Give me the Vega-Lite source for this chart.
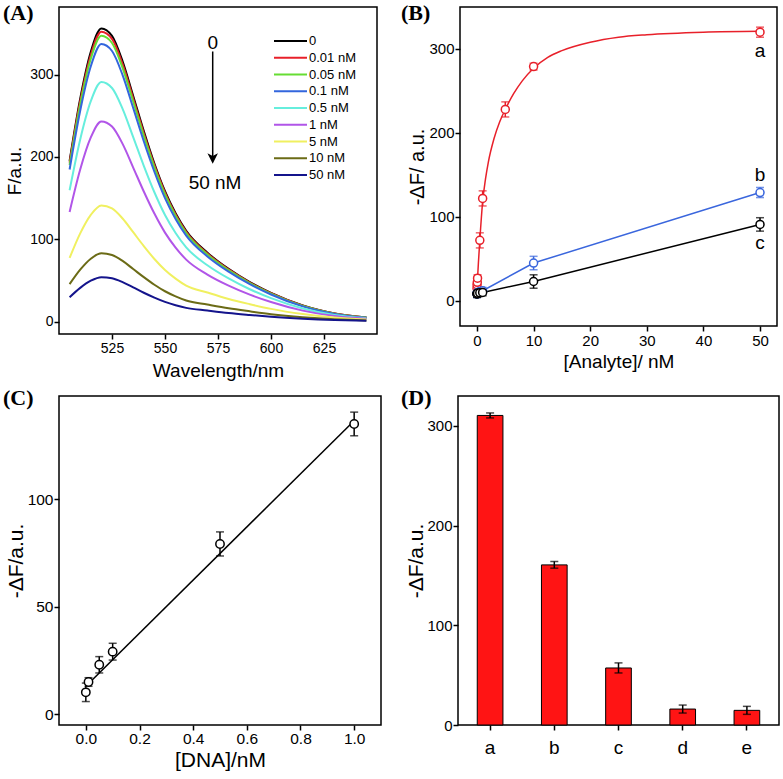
{
"$schema": "https://vega.github.io/schema/vega-lite/v6.json",
"padding": {"left": 2, "top": 1, "right": 0, "bottom": 0},
"background": "white",
"config": {
 "view": {"stroke": "black", "strokeWidth": 1.5},
 "axis": {"grid": false, "domain": false, "tickColor": "black", "tickWidth": 1.5, "tickSize": 5, "labelColor": "black", "titleColor": "black", "labelFont": "Liberation Sans", "titleFont": "Liberation Sans", "titleFontWeight": "normal"},
 "text": {"font": "Liberation Sans", "color": "black"},
 "title": {"font": "Liberation Serif", "fontWeight": "bold", "fontSize": 22, "color": "black", "anchor": "start", "frame": "group", "baseline": "alphabetic"}
},
"datasets": {
 "spec": [
  {"w":505,"c":"0","F":195},{"w":510,"c":"0","F":270.6},{"w":515,"c":"0","F":327.5},{"w":520,"c":"0","F":356},{"w":525,"c":"0","F":347},{"w":530,"c":"0","F":316},{"w":535,"c":"0","F":274},{"w":540,"c":"0","F":231.4},{"w":545,"c":"0","F":192},{"w":550,"c":"0","F":158.4},{"w":555,"c":"0","F":131.7},{"w":560,"c":"0","F":110.4},{"w":570,"c":"0","F":83.7},{"w":580,"c":"0","F":64},{"w":590,"c":"0","F":48},{"w":600,"c":"0","F":34.9},{"w":615,"c":"0","F":19.6},{"w":630,"c":"0","F":10},{"w":645,"c":"0","F":5},
  {"w":505,"c":"0.01 nM","F":193},{"w":510,"c":"0.01 nM","F":267.5},{"w":515,"c":"0.01 nM","F":323.8},{"w":520,"c":"0.01 nM","F":352},{"w":525,"c":"0.01 nM","F":343.2},{"w":530,"c":"0.01 nM","F":312.6},{"w":535,"c":"0.01 nM","F":271},{"w":540,"c":"0.01 nM","F":228.8},{"w":545,"c":"0.01 nM","F":190},{"w":550,"c":"0.01 nM","F":156.6},{"w":555,"c":"0.01 nM","F":130.2},{"w":560,"c":"0.01 nM","F":109.1},{"w":570,"c":"0.01 nM","F":82.7},{"w":580,"c":"0.01 nM","F":63.4},{"w":590,"c":"0.01 nM","F":47.5},{"w":600,"c":"0.01 nM","F":34.5},{"w":615,"c":"0.01 nM","F":19.4},{"w":630,"c":"0.01 nM","F":9.9},{"w":645,"c":"0.01 nM","F":4.9},
  {"w":505,"c":"0.05 nM","F":190.2},{"w":510,"c":"0.05 nM","F":263.7},{"w":515,"c":"0.05 nM","F":319.2},{"w":520,"c":"0.05 nM","F":347},{"w":525,"c":"0.05 nM","F":338.3},{"w":530,"c":"0.05 nM","F":308.1},{"w":535,"c":"0.05 nM","F":267.2},{"w":540,"c":"0.05 nM","F":225.6},{"w":545,"c":"0.05 nM","F":187.4},{"w":550,"c":"0.05 nM","F":154.4},{"w":555,"c":"0.05 nM","F":128.4},{"w":560,"c":"0.05 nM","F":107.6},{"w":570,"c":"0.05 nM","F":81.5},{"w":580,"c":"0.05 nM","F":62.5},{"w":590,"c":"0.05 nM","F":46.8},{"w":600,"c":"0.05 nM","F":34},{"w":615,"c":"0.05 nM","F":19.1},{"w":630,"c":"0.05 nM","F":9.7},{"w":645,"c":"0.05 nM","F":4.9},
  {"w":505,"c":"0.1 nM","F":184.7},{"w":510,"c":"0.1 nM","F":256.1},{"w":515,"c":"0.1 nM","F":310},{"w":520,"c":"0.1 nM","F":337},{"w":525,"c":"0.1 nM","F":328.6},{"w":530,"c":"0.1 nM","F":299.3},{"w":535,"c":"0.1 nM","F":259.5},{"w":540,"c":"0.1 nM","F":219},{"w":545,"c":"0.1 nM","F":182},{"w":550,"c":"0.1 nM","F":150},{"w":555,"c":"0.1 nM","F":124.7},{"w":560,"c":"0.1 nM","F":104.5},{"w":570,"c":"0.1 nM","F":79.2},{"w":580,"c":"0.1 nM","F":60.7},{"w":590,"c":"0.1 nM","F":45.5},{"w":600,"c":"0.1 nM","F":33},{"w":615,"c":"0.1 nM","F":18.5},{"w":630,"c":"0.1 nM","F":9.4},{"w":645,"c":"0.1 nM","F":4.7},
  {"w":505,"c":"0.5 nM","F":159.5},{"w":510,"c":"0.5 nM","F":221.2},{"w":515,"c":"0.5 nM","F":267.7},{"w":520,"c":"0.5 nM","F":291},{"w":525,"c":"0.5 nM","F":283.7},{"w":530,"c":"0.5 nM","F":258.4},{"w":535,"c":"0.5 nM","F":224.1},{"w":540,"c":"0.5 nM","F":189.2},{"w":545,"c":"0.5 nM","F":157.1},{"w":550,"c":"0.5 nM","F":129.5},{"w":555,"c":"0.5 nM","F":107.7},{"w":560,"c":"0.5 nM","F":90.2},{"w":570,"c":"0.5 nM","F":68.4},{"w":580,"c":"0.5 nM","F":52.4},{"w":590,"c":"0.5 nM","F":39.3},{"w":600,"c":"0.5 nM","F":28.5},{"w":615,"c":"0.5 nM","F":16},{"w":630,"c":"0.5 nM","F":8.1},{"w":645,"c":"0.5 nM","F":4.1},
  {"w":505,"c":"1 nM","F":133.2},{"w":510,"c":"1 nM","F":184.7},{"w":515,"c":"1 nM","F":223.6},{"w":520,"c":"1 nM","F":243},{"w":525,"c":"1 nM","F":236.9},{"w":530,"c":"1 nM","F":215.8},{"w":535,"c":"1 nM","F":187.1},{"w":540,"c":"1 nM","F":158},{"w":545,"c":"1 nM","F":131.2},{"w":550,"c":"1 nM","F":108.1},{"w":555,"c":"1 nM","F":89.9},{"w":560,"c":"1 nM","F":75.3},{"w":570,"c":"1 nM","F":57.1},{"w":580,"c":"1 nM","F":43.7},{"w":590,"c":"1 nM","F":32.8},{"w":600,"c":"1 nM","F":23.8},{"w":615,"c":"1 nM","F":13.4},{"w":630,"c":"1 nM","F":6.8},{"w":645,"c":"1 nM","F":3.4},
  {"w":505,"c":"5 nM","F":77.3},{"w":510,"c":"5 nM","F":107.2},{"w":515,"c":"5 nM","F":129.7},{"w":520,"c":"5 nM","F":141},{"w":525,"c":"5 nM","F":137.5},{"w":530,"c":"5 nM","F":125.2},{"w":535,"c":"5 nM","F":108.6},{"w":540,"c":"5 nM","F":91.7},{"w":545,"c":"5 nM","F":76.1},{"w":550,"c":"5 nM","F":62.7},{"w":555,"c":"5 nM","F":52.2},{"w":560,"c":"5 nM","F":43.7},{"w":570,"c":"5 nM","F":35.3},{"w":580,"c":"5 nM","F":27.5},{"w":590,"c":"5 nM","F":21.2},{"w":600,"c":"5 nM","F":15.5},{"w":615,"c":"5 nM","F":9.2},{"w":630,"c":"5 nM","F":4.9},{"w":645,"c":"5 nM","F":2.5},
  {"w":505,"c":"10 nM","F":45.5},{"w":510,"c":"10 nM","F":63.1},{"w":515,"c":"10 nM","F":76.4},{"w":520,"c":"10 nM","F":83},{"w":525,"c":"10 nM","F":80.9},{"w":530,"c":"10 nM","F":73.7},{"w":535,"c":"10 nM","F":63.9},{"w":540,"c":"10 nM","F":54},{"w":545,"c":"10 nM","F":44.8},{"w":550,"c":"10 nM","F":36.9},{"w":555,"c":"10 nM","F":30.7},{"w":560,"c":"10 nM","F":25.7},{"w":570,"c":"10 nM","F":20.8},{"w":580,"c":"10 nM","F":16.2},{"w":590,"c":"10 nM","F":12.5},{"w":600,"c":"10 nM","F":9.1},{"w":615,"c":"10 nM","F":5.4},{"w":630,"c":"10 nM","F":2.9},{"w":645,"c":"10 nM","F":1.5},
  {"w":505,"c":"50 nM","F":29.6},{"w":510,"c":"50 nM","F":41},{"w":515,"c":"50 nM","F":49.7},{"w":520,"c":"50 nM","F":54},{"w":525,"c":"50 nM","F":52.7},{"w":530,"c":"50 nM","F":48},{"w":535,"c":"50 nM","F":41.6},{"w":540,"c":"50 nM","F":35.1},{"w":545,"c":"50 nM","F":29.2},{"w":550,"c":"50 nM","F":24},{"w":555,"c":"50 nM","F":20},{"w":560,"c":"50 nM","F":16.7},{"w":570,"c":"50 nM","F":13.5},{"w":580,"c":"50 nM","F":10.5},{"w":590,"c":"50 nM","F":8.1},{"w":600,"c":"50 nM","F":5.9},{"w":615,"c":"50 nM","F":3.5},{"w":630,"c":"50 nM","F":1.9},{"w":645,"c":"50 nM","F":1}
 ],
 "annA": [{"w":572.5,"F":338,"t":"0"},{"w":573.6,"F":168,"t":"50 nM"}],
 "arrowA": [{"w":572.5,"F":328,"F2":200}],
 "headA": [{"w":572.5,"F":198}],
 "fitB": [
  {"x":0,"y":15,"s":"a"},{"x":0.25,"y":45,"s":"a"},{"x":0.5,"y":72,"s":"a"},{"x":1,"y":118,"s":"a"},{"x":1.5,"y":145,"s":"a"},{"x":2,"y":165,"s":"a"},{"x":3,"y":193,"s":"a"},{"x":4,"y":213,"s":"a"},{"x":5,"y":228,"s":"a"},{"x":6.5,"y":247,"s":"a"},{"x":8,"y":262,"s":"a"},{"x":10,"y":277,"s":"a"},{"x":12.5,"y":290,"s":"a"},{"x":15,"y":298,"s":"a"},{"x":20,"y":308,"s":"a"},{"x":25,"y":314,"s":"a"},{"x":30,"y":317,"s":"a"},{"x":40,"y":320,"s":"a"},{"x":50,"y":321,"s":"a"}
 ],
 "ptsB": [
  {"x":0,"y":15,"lo":11,"hi":19,"s":"a"},{"x":0.01,"y":19,"lo":15,"hi":23,"s":"a"},{"x":0.05,"y":22,"lo":18,"hi":26,"s":"a"},{"x":0.1,"y":27,"lo":23,"hi":31,"s":"a"},{"x":0.5,"y":72,"lo":63,"hi":81,"s":"a"},{"x":1,"y":122,"lo":113,"hi":131,"s":"a"},{"x":5,"y":228,"lo":219,"hi":237,"s":"a"},{"x":10,"y":279,"lo":275,"hi":283,"s":"a"},{"x":50,"y":320,"lo":314,"hi":326,"s":"a"},
  {"x":0,"y":8,"lo":4,"hi":12,"s":"b"},{"x":0.01,"y":9,"lo":5,"hi":13,"s":"b"},{"x":0.05,"y":9.5,"lo":5.5,"hi":13.5,"s":"b"},{"x":0.1,"y":10,"lo":6,"hi":14,"s":"b"},{"x":0.5,"y":11,"lo":7,"hi":15,"s":"b"},{"x":1,"y":12,"lo":8,"hi":16,"s":"b"},{"x":10,"y":45,"lo":37,"hi":53,"s":"b"},{"x":50,"y":129,"lo":123,"hi":135,"s":"b"},
  {"x":0,"y":8,"lo":4,"hi":12,"s":"c"},{"x":0.01,"y":8.5,"lo":4.5,"hi":12.5,"s":"c"},{"x":0.05,"y":9,"lo":5,"hi":13,"s":"c"},{"x":0.1,"y":9,"lo":5,"hi":13,"s":"c"},{"x":0.5,"y":9.5,"lo":5.5,"hi":13.5,"s":"c"},{"x":1,"y":10,"lo":6,"hi":14,"s":"c"},{"x":10,"y":23,"lo":15,"hi":31,"s":"c"},{"x":50,"y":91,"lo":83,"hi":99,"s":"c"}
 ],
 "labB": [{"x":50,"y":297,"t":"a"},{"x":50,"y":150,"t":"b"},{"x":50,"y":69,"t":"c"}],
 "ptsC": [
  {"x":0,"y":10.2,"lo":5.9,"hi":14.5},{"x":0.01,"y":15,"lo":13,"hi":17},{"x":0.05,"y":23,"lo":19.2,"hi":26.8},{"x":0.1,"y":29.1,"lo":25.2,"hi":33},{"x":0.5,"y":79.2,"lo":73.6,"hi":84.8},{"x":1,"y":135,"lo":129.5,"hi":140.5}
 ],
 "lineC": [{"x":0,"y":13},{"x":1,"y":136.5}],
 "barD": [
  {"k":"a","v":310.5,"lo":308,"hi":313},{"k":"b","v":160.6,"lo":157.3,"hi":164},{"k":"c","v":57.2,"lo":52.2,"hi":62.3},{"k":"d","v":16,"lo":12,"hi":20},{"k":"e","v":14.7,"lo":10.7,"hi":18.7}
 ]
},
"spacing": 5,
"resolve": {"scale": {"color": "independent", "stroke": "independent"}, "legend": {"color": "independent", "stroke": "independent"}},
"vconcat": [
 {"hconcat": [
  {
   "width": 318, "height": 327,
   "title": {"text": "(A)", "dx": -56, "offset": -18},
   "layer": [
    {"data": {"name": "spec"},
     "mark": {"type": "line", "strokeWidth": 2, "interpolate": "monotone"},
     "encoding": {
      "x": {"field": "w", "type": "quantitative", "scale": {"domain": [500, 650], "nice": false, "zero": false}, "axis": {"values": [525, 550, 575, 600, 625], "title": "Wavelength/nm", "labelFontSize": 14, "titleFontSize": 19, "labelPadding": 2, "titlePadding": 6}},
      "y": {"field": "F", "type": "quantitative", "scale": {"domain": [-15, 382], "nice": false}, "axis": {"values": [0, 100, 200, 300], "title": "F/a.u.", "labelFontSize": 14, "titleFontSize": 19, "labelPadding": 1, "titlePadding": 5}},
      "color": {"field": "c", "type": "nominal",
       "scale": {"domain": ["0", "0.01 nM", "0.05 nM", "0.1 nM", "0.5 nM", "1 nM", "5 nM", "10 nM", "50 nM"],
                 "range": ["#000000", "#e8202a", "#66dd33", "#3366dd", "#66eedd", "#b155e8", "#f0f060", "#6b6b16", "#14148c"]},
       "legend": {"orient": "none", "legendX": 223, "legendY": 25.5, "title": null, "symbolType": "M-2.2,0H2.2", "symbolSize": 225, "symbolStrokeWidth": 2, "labelFontSize": 13, "labelFont": "Liberation Sans", "labelColor": "black", "labelOffset": 10, "rowPadding": 0.75, "padding": 0}}
     }},
    {"data": {"name": "annA"},
     "mark": {"type": "text", "fontSize": 19},
     "encoding": {"x": {"field": "w", "type": "quantitative"}, "y": {"field": "F", "type": "quantitative"}, "text": {"field": "t"}}},
    {"data": {"name": "arrowA"},
     "mark": {"type": "rule", "strokeWidth": 1.5, "color": "black"},
     "encoding": {"x": {"field": "w", "type": "quantitative"}, "y": {"field": "F", "type": "quantitative"}, "y2": {"field": "F2"}}},
    {"data": {"name": "headA"},
     "mark": {"type": "point", "shape": "M-1,-1L0,1L1,-1L0,-0.5Z", "filled": true, "color": "black", "size": 110, "opacity": 1},
     "encoding": {"x": {"field": "w", "type": "quantitative"}, "y": {"field": "F", "type": "quantitative"}}}
   ]
  },
  {
   "width": 317, "height": 319,
   "title": {"text": "(B)", "dx": -59, "offset": -18},
   "layer": [
    {"data": {"name": "fitB"},
     "mark": {"type": "line", "strokeWidth": 1.5, "interpolate": "monotone"},
     "encoding": {
      "x": {"field": "x", "type": "quantitative", "scale": {"domain": [-3, 53], "nice": false, "zero": false}, "axis": {"values": [0, 10, 20, 30, 40, 50], "title": "[Analyte]/ nM", "labelFontSize": 15, "titleFontSize": 19, "labelPadding": 2, "titlePadding": 4}},
      "y": {"field": "y", "type": "quantitative", "title": "-ΔF/ a.u.", "scale": {"domain": [-30, 350], "nice": false}, "axis": {"values": [0, 100, 200, 300], "labelFontSize": 15, "titleFontSize": 20, "labelPadding": 1, "titlePadding": 1}},
      "color": {"field": "s", "type": "nominal", "scale": {"domain": ["a", "b", "c"], "range": ["#e8202a", "#3a66dd", "#000000"]}, "legend": null}
     }},
    {"data": {"name": "ptsB"},
     "transform": [{"filter": "datum.s !== 'a'"}],
     "mark": {"type": "line", "strokeWidth": 1.5},
     "encoding": {
      "x": {"field": "x", "type": "quantitative", "title": "[Analyte]/ nM"},
      "y": {"field": "y", "type": "quantitative", "title": "-ΔF/ a.u."},
      "color": {"field": "s", "type": "nominal", "legend": null}
     }},
    {"data": {"name": "ptsB"},
     "mark": {"type": "errorbar", "ticks": {"size": 8}, "thickness": 1.5},
     "encoding": {
      "x": {"field": "x", "type": "quantitative", "title": "[Analyte]/ nM"},
      "y": {"field": "lo", "type": "quantitative", "title": "-ΔF/ a.u."},
      "y2": {"field": "hi"},
      "color": {"field": "s", "type": "nominal", "legend": null}
     }},
    {"data": {"name": "ptsB"},
     "mark": {"type": "point", "fill": "white", "filled": false, "strokeWidth": 1.5, "size": 64, "opacity": 1, "fillOpacity": 1},
     "encoding": {
      "x": {"field": "x", "type": "quantitative", "title": "[Analyte]/ nM"},
      "y": {"field": "y", "type": "quantitative", "title": "-ΔF/ a.u."},
      "stroke": {"field": "s", "type": "nominal", "scale": {"domain": ["a", "b", "c"], "range": ["#e8202a", "#3a66dd", "#000000"]}, "legend": null}
     }},
    {"data": {"name": "labB"},
     "mark": {"type": "text", "fontSize": 19},
     "encoding": {"x": {"field": "x", "type": "quantitative", "title": "[Analyte]/ nM"}, "y": {"field": "y", "type": "quantitative", "title": "-ΔF/ a.u."}, "text": {"field": "t"}}}
   ]
  }
 ], "spacing": 22,
 "resolve": {"scale": {"color": "independent", "stroke": "independent"}, "legend": {"color": "independent", "stroke": "independent"}}},
 {"hconcat": [
  {
   "width": 322, "height": 329,
   "title": {"text": "(C)", "dx": -56, "offset": -14},
   "layer": [
    {"data": {"name": "lineC"},
     "mark": {"type": "line", "strokeWidth": 1.5, "color": "black"},
     "encoding": {
      "x": {"field": "x", "type": "quantitative", "title": "[DNA]/nM", "scale": {"domain": [-0.1, 1.1], "nice": false, "zero": false}, "axis": {"values": [0, 0.2, 0.4, 0.6, 0.8, 1.0], "format": ".1f", "labelFontSize": 15.5, "titleFontSize": 21, "labelPadding": 1, "titlePadding": 3}},
      "y": {"field": "y", "type": "quantitative", "title": "-ΔF/a.u.", "scale": {"domain": [-5, 148], "nice": false}, "axis": {"values": [0, 50, 100], "labelFontSize": 15.5, "titleFontSize": 21, "labelPadding": 1, "titlePadding": 1}}
     }},
    {"data": {"name": "ptsC"},
     "mark": {"type": "errorbar", "ticks": {"size": 8}, "thickness": 1.5, "color": "black"},
     "encoding": {
      "x": {"field": "x", "type": "quantitative", "title": "[DNA]/nM"},
      "y": {"field": "lo", "type": "quantitative", "title": "-ΔF/a.u."},
      "y2": {"field": "hi"}
     }},
    {"data": {"name": "ptsC"},
     "mark": {"type": "point", "fill": "white", "filled": false, "stroke": "black", "strokeWidth": 1.5, "size": 70, "opacity": 1, "fillOpacity": 1},
     "encoding": {
      "x": {"field": "x", "type": "quantitative", "title": "[DNA]/nM"},
      "y": {"field": "y", "type": "quantitative", "title": "-ΔF/a.u."}
     }}
   ]
  },
  {
   "width": 321, "height": 329,
   "title": {"text": "(D)", "dx": -57, "offset": -14},
   "layer": [
    {"data": {"name": "barD"},
     "mark": {"type": "bar", "fill": "#ff1414", "stroke": "black", "strokeWidth": 1},
     "encoding": {
      "x": {"field": "k", "type": "nominal", "title": null, "scale": {"paddingInner": 0.6, "paddingOuter": 0.3}, "axis": {"labelAngle": 0, "labelFontSize": 19, "labelPadding": 8}},
      "y": {"field": "v", "type": "quantitative", "title": "-ΔF/a.u.", "scale": {"domain": [0, 330], "nice": false}, "axis": {"values": [0, 100, 200, 300], "labelFontSize": 15, "titleFontSize": 21, "labelPadding": 1, "titlePadding": 0}}
     }},
    {"data": {"name": "barD"},
     "mark": {"type": "errorbar", "ticks": {"size": 8}, "thickness": 1.5, "color": "black"},
     "encoding": {
      "x": {"field": "k", "type": "nominal", "title": null},
      "y": {"field": "lo", "type": "quantitative", "title": "-ΔF/a.u."},
      "y2": {"field": "hi"}
     }}
   ]
  }
 ], "spacing": 18}
]
}
